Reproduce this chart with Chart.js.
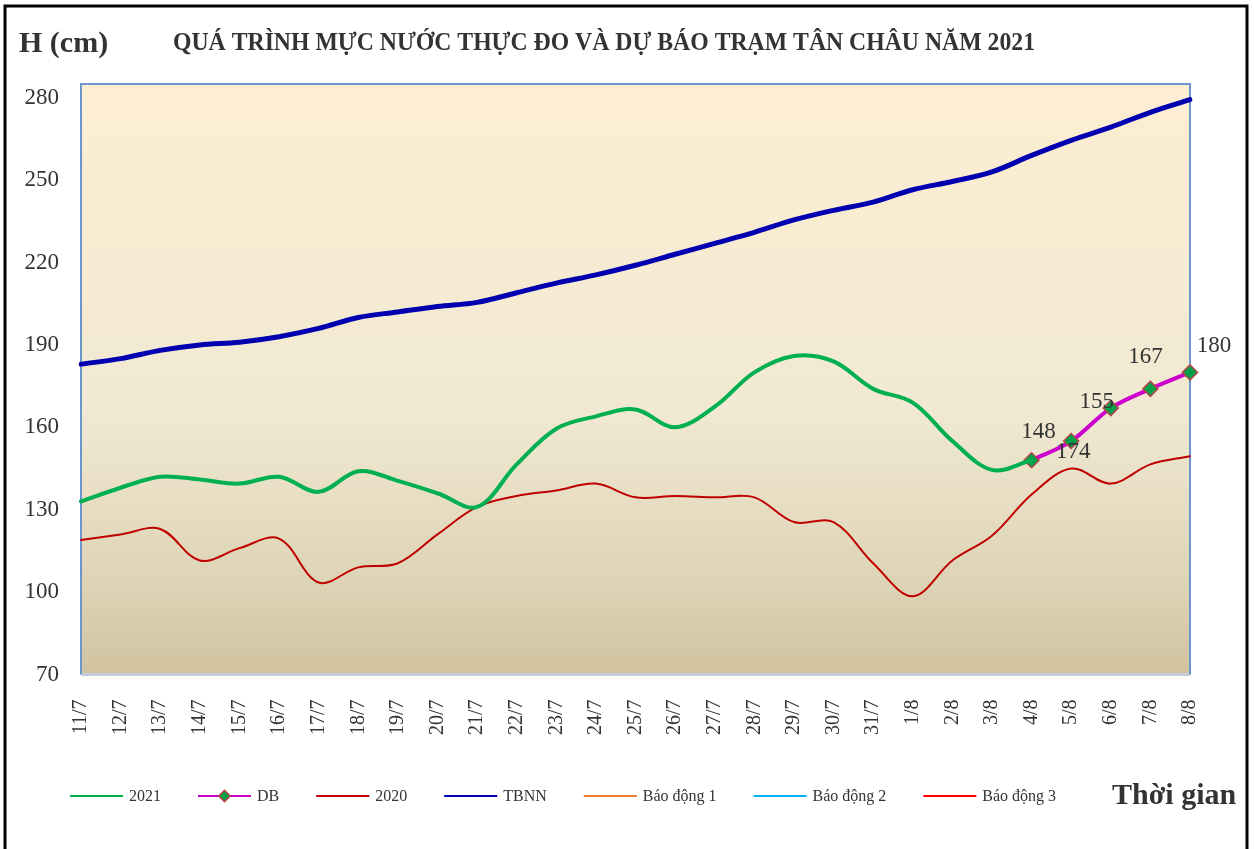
<!DOCTYPE html>
<html>
<head>
<meta charset="utf-8">
<script src="https://cdn.jsdelivr.net/npm/chart.js@4/dist/chart.umd.min.js"></script>
<style>
  body { margin: 0; background: #fff; }
  #wrap { width: 1254px; height: 849px; }
</style>
</head>
<body>
<div id="wrap"><canvas id="line-chart"></canvas></div>
<script>
// trục hoành: ngày
const labels = ['11/7','12/7','13/7','14/7','15/7','16/7','17/7','18/7','19/7','20/7',
    '21/7','22/7','23/7','24/7','25/7','26/7','27/7','28/7','29/7','30/7',
    '31/7','1/8','2/8','3/8','4/8','5/8','6/8','7/8','8/8'];

// mực nước thực đo 2021 (cm)
const h2021 = [133, 138, 142, 141, 139.5, 142, 136.5, 144, 140.5, 136, 131, 146.5, 159.5, 164,
    166.5, 160, 167.5, 180, 186, 184, 174, 169, 155, 144.5, 148,
    null, null, null, null];

// dự báo
const hDB = [null, null, null, null, null, null, null, null, null, null, null, null, null, null,
    null, null, null, null, null, null, null, null, null, null, 148, 155, 167, 174, 180];
const dbText = ['148', '174', '155', '167', '180']; // nhãn như trên hình

// năm 2020
const h2020 = [119, 121, 123, 111.5, 116, 119.5, 103.5, 109, 110.5, 121, 131, 135, 137, 139.5,
    134.5, 135, 134.5, 134.5, 125.5, 125.5, 110.5, 98.5, 111.5, 120.5, 135.5, 145, 139.5, 146.5, 149.5];

// trung bình nhiều năm
const hTBNN = [183, 185, 188, 190, 191, 193, 196, 200, 202, 204, 205.5, 209, 212.5, 215.5,
    219, 223, 227, 231, 235.5, 239, 242, 246.5, 249.5, 253, 259, 264.5, 269.3, 274.7, 279.3];

const yTicks = [70, 100, 130, 160, 190, 220, 250, 280];

const FONT = "'Liberation Serif', 'Times New Roman', serif";

// nền, khung và chữ
const decor = {
    id: 'decor',
    beforeDatasetsDraw(chart) {
        const { ctx, chartArea: a } = chart;
        ctx.save();
        const g = ctx.createLinearGradient(0, a.top, 0, a.bottom);
        g.addColorStop(0, '#fdeed2');
        g.addColorStop(0.55, '#f1e9d3');
        g.addColorStop(0.85, '#ddd3b5');
        g.addColorStop(1, '#d1c39f');
        ctx.fillStyle = g;
        ctx.fillRect(a.left, a.top, a.right - a.left, a.bottom - a.top);
        ctx.strokeStyle = '#c5ccd9';
        ctx.lineWidth = 3;
        ctx.beginPath();
        ctx.moveTo(a.left, a.bottom);
        ctx.lineTo(a.right, a.bottom);
        ctx.stroke();
        ctx.strokeStyle = '#6c96cc';
        ctx.lineWidth = 2;
        ctx.beginPath();
        ctx.moveTo(a.left, a.bottom);
        ctx.lineTo(a.left, a.top);
        ctx.lineTo(a.right, a.top);
        ctx.lineTo(a.right, a.bottom);
        ctx.stroke();
        ctx.restore();
    },
    afterDraw(chart) {
        const ctx = chart.ctx;
        ctx.save();
        // khung ngoài
        ctx.strokeStyle = '#000';
        ctx.lineWidth = 3;
        ctx.strokeRect(5, 6, 1242, 850);

        ctx.fillStyle = '#333';
        ctx.textBaseline = 'middle';
        ctx.textAlign = 'left';
        ctx.font = 'bold 30px ' + FONT;
        ctx.fillText('H (cm)', 19, 44);
        ctx.font = 'bold 26px ' + FONT;
        const title = 'QUÁ TRÌNH MỰC NƯỚC THỰC ĐO VÀ DỰ BÁO TRẠM TÂN CHÂU NĂM 2021';
        const w = ctx.measureText(title).width;
        ctx.save();
        ctx.translate(173, 43);
        ctx.scale(862 / w, 1);
        ctx.fillText(title, 0, 0);
        ctx.restore();
        ctx.font = 'bold 30px ' + FONT;
        ctx.fillText('Thời gian', 1112, 796);

        // nhãn dự báo
        const offs = [[7, -28], [2, 11], [-14, -6], [-5, -32], [24, -26]];
        const meta = chart.getDatasetMeta(1);
        ctx.font = '23px ' + FONT;
        ctx.textAlign = 'center';
        let k = 0;
        meta.data.forEach((pt, i) => {
            if (hDB[i] == null) return;
            ctx.fillText(dbText[k], pt.x + offs[k][0], pt.y + offs[k][1]);
            k++;
        });

        // chú thích
        let x = 70;
        const y = 796;
        ctx.font = '16px ' + FONT;
        ctx.textAlign = 'left';
        chart.data.datasets.forEach(ds => {
            ctx.strokeStyle = ds.borderColor;
            ctx.lineWidth = 2;
            ctx.beginPath();
            ctx.moveTo(x, y);
            ctx.lineTo(x + 53, y);
            ctx.stroke();
            if (ds.pointRadius > 0) {
                ctx.save();
                ctx.translate(x + 26.5, y);
                ctx.rotate(Math.PI / 4);
                ctx.fillStyle = ds.pointBackgroundColor;
                ctx.strokeStyle = ds.pointBorderColor;
                ctx.lineWidth = 1.5;
                ctx.fillRect(-4, -4, 8, 8);
                ctx.strokeRect(-4, -4, 8, 8);
                ctx.restore();
            }
            ctx.fillStyle = '#333';
            ctx.fillText(ds.label, x + 59, y + 1);
            x += 59 + ctx.measureText(ds.label).width + 37;
        });
        ctx.restore();
    }
};

const ctx = document.getElementById('line-chart').getContext('2d');
const myChart = new Chart(ctx, {
    type: 'line',
    data: {
        labels: labels,
        datasets: [
            { label: '2021', data: h2021, borderColor: '#00b050', borderWidth: 4, pointRadius: 0 },
            { label: 'DB', data: hDB, borderColor: '#cc00cc', borderWidth: 4, pointRadius: 7.5,
              pointStyle: 'rectRot', pointBackgroundColor: '#00a04a', pointBorderColor: '#b04848',
              pointBorderWidth: 1.5 },
            { label: '2020', data: h2020, borderColor: '#c00000', borderWidth: 2, pointRadius: 0 },
            { label: 'TBNN', data: hTBNN, borderColor: '#0000b0', borderWidth: 5, pointRadius: 0 },
            { label: 'Báo động 1', data: [], borderColor: '#ed7d31', borderWidth: 2, pointRadius: 0 },
            { label: 'Báo động 2', data: [], borderColor: '#00b0f0', borderWidth: 2, pointRadius: 0 },
            { label: 'Báo động 3', data: [], borderColor: '#ff0000', borderWidth: 2, pointRadius: 0 }
        ]
    },
    options: {
        responsive: true,
        maintainAspectRatio: false,
        animation: false,
        spanGaps: false,
        layout: { padding: { top: 84, right: 64, left: 0, bottom: 0 } },
        elements: { line: { tension: 0.35, borderCapStyle: 'round' } },
        plugins: {
            legend: { display: false },
            title: { display: false },
            tooltip: { enabled: false }
        },
        scales: {
            x: {
                offset: false,
                grid: { display: false, drawTicks: false },
                border: { display: false },
                ticks: {
                    minRotation: 90, maxRotation: 90, autoSkip: false, padding: 25,
                    color: '#333', font: { family: FONT, size: 20 }
                },
                afterFit(scale) { scale.height = 174.5; }
            },
            y: {
                min: 70,
                max: 285,
                grid: { display: false, drawTicks: false },
                border: { display: false },
                ticks: { padding: 22, color: '#333', font: { family: FONT, size: 23 } },
                afterBuildTicks(scale) { scale.ticks = yTicks.map(v => ({ value: v })); },
                afterFit(scale) { scale.width = 81; }
            }
        }
    },
    plugins: [decor]
});
</script>
</body>
</html>
